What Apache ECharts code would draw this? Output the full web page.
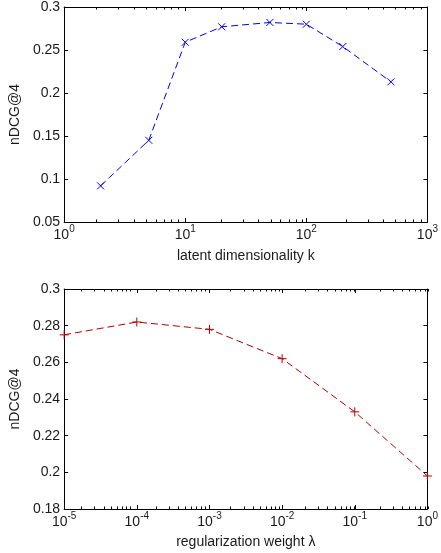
<!DOCTYPE html>
<html>
<head>
<meta charset="utf-8">
<script src="https://cdn.jsdelivr.net/npm/echarts@6/dist/echarts.min.js"></script>
<style>
html,body{margin:0;padding:0;background:#fff;}
#chart{width:441px;height:553px;}
</style>
</head>
<body>
<div id="chart"></div>
<script>
// ---- data ----
var kValues = [2, 5, 10, 20, 50, 100, 200, 500];
var ndcgByK = [0.092, 0.145, 0.259, 0.277, 0.282, 0.280, 0.254, 0.213];
var lambdaValues = [1e-5, 1e-4, 1e-3, 1e-2, 1e-1, 1];
var ndcgByLambda = [0.275, 0.282, 0.278, 0.262, 0.233, 0.198];
var yTitle = 'nDCG@4';
var xTitleTop = 'latent dimensionality k';
var xTitleBottom = 'regularization weight \u03bb';

function minorTicks(fromExp, toExp) {
  var out = [];
  for (var e = fromExp; e < toExp; e++) {
    for (var m = 2; m <= 9; m++) out.push(m * Math.pow(10, e));
  }
  return out;
}
var kMinor = minorTicks(0, 3);
var lambdaMinor = minorTicks(-5, 0);

var FONT = '"Liberation Sans", Arial, Helvetica, sans-serif';
var TXT = '#1a1a1a';
var LINE = '#000';

function logLabel(v) {
  var e = Math.round(Math.log10(v));
  return '{b|10}{s|' + (e < 0 ? '-' : '') + Math.abs(e) + '}';
}

var grids = [
  {left: 59, right: 8, top: 7, height: 215},
  {left: 59, right: 8, top: 7, height: 215},
  {left: 59, right: 9, top: 289, height: 220},
  {left: 59, right: 9, top: 289, height: 220}
];

function mainX(grid, min, max, name, nameGap) {
  return {
    type: 'log', logBase: 10, gridIndex: grid, min: min, max: max, position: 'bottom',
    name: name, nameLocation: 'middle', nameGap: nameGap,
    nameTextStyle: {fontFamily: FONT, fontSize: 14, color: TXT},
    axisLine: {show: true, lineStyle: {color: LINE, width: 1}},
    axisTick: {show: true, inside: true, length: 4, lineStyle: {color: LINE}},
    minorTick: {show: false},
    splitLine: {show: false},
    axisLabel: {
      show: true, margin: 6, formatter: logLabel, showMinLabel: true, showMaxLabel: true,
      rich: {
        b: {fontFamily: FONT, fontSize: 14, color: TXT, lineHeight: 14, verticalAlign: 'bottom'},
        s: {fontFamily: FONT, fontSize: 10, color: TXT, lineHeight: 10, padding: [0, 0, 8, 0], verticalAlign: 'bottom'}
      }
    }
  };
}
function mirrorX(grid, min, max, pos) {
  return {
    type: 'log', logBase: 10, gridIndex: grid, min: min, max: max, position: pos,
    axisLine: {show: true, lineStyle: {color: LINE, width: 1}},
    axisTick: {show: true, inside: true, length: 4, lineStyle: {color: LINE}},
    axisLabel: {show: false}, splitLine: {show: false}
  };
}
function minorX(grid, min, max, pos, values) {
  return {
    type: 'log', logBase: 10, gridIndex: grid, min: min, max: max, position: pos,
    axisLine: {show: false},
    axisTick: {show: true, inside: true, length: 2.5, customValues: values, lineStyle: {color: LINE}},
    axisLabel: {show: false}, splitLine: {show: false}
  };
}
function mainY(grid, min, max, interval) {
  return {
    type: 'value', gridIndex: grid, min: min, max: max, interval: interval, position: 'left',
    name: yTitle, nameLocation: 'middle', nameGap: 39,
    nameTextStyle: {fontFamily: FONT, fontSize: 14, color: TXT},
    axisLine: {show: true, lineStyle: {color: LINE, width: 1}},
    axisTick: {show: true, inside: true, length: 4, lineStyle: {color: LINE}},
    splitLine: {show: false},
    axisLabel: {show: true, margin: 4, fontFamily: FONT, fontSize: 14, color: TXT, showMinLabel: true, showMaxLabel: true}
  };
}
function mirrorY(grid, min, max, interval) {
  return {
    type: 'value', gridIndex: grid, min: min, max: max, interval: interval, position: 'right',
    axisLine: {show: true, lineStyle: {color: LINE, width: 1}},
    axisTick: {show: true, inside: true, length: 4, lineStyle: {color: LINE}},
    splitLine: {show: false}, axisLabel: {show: false}
  };
}
function hiddenY(grid, min, max, pos) {
  return {type: 'value', gridIndex: grid, min: min, max: max, position: pos, show: false};
}

var xAxes = [
  mainX(0, 1, 1000, xTitleTop, 27),        // 0
  mirrorX(0, 1, 1000, 'top'),              // 1
  minorX(1, 1, 1000, 'bottom', kMinor),    // 2
  minorX(1, 1, 1000, 'top', kMinor),       // 3
  mainX(2, 1e-5, 1, xTitleBottom, 26),     // 4
  mirrorX(2, 1e-5, 1, 'top'),              // 5
  minorX(3, 1e-5, 1, 'bottom', lambdaMinor), // 6
  minorX(3, 1e-5, 1, 'top', lambdaMinor)   // 7
];
var yAxes = [
  mainY(0, 0.05, 0.3, 0.05),   // 0
  mirrorY(0, 0.05, 0.3, 0.05), // 1
  hiddenY(1, 0.05, 0.3, 'left'), // 2
  mainY(2, 0.18, 0.3, 0.02),   // 3
  mirrorY(2, 0.18, 0.3, 0.02), // 4
  hiddenY(3, 0.18, 0.3, 'left')  // 5
];

function pairs(xs, ys) {
  return xs.map(function (x, i) { return [x, ys[i]]; });
}

var option = {
  animation: false,
  backgroundColor: '#fff',
  grid: grids,
  xAxis: xAxes,
  yAxis: yAxes,
  series: [
    {
      type: 'line', xAxisIndex: 0, yAxisIndex: 0,
      data: pairs(kValues, ndcgByK),
      symbol: 'path://M0,0L10,10M10,0L0,10', symbolSize: 7,
      itemStyle: {color: 'rgba(0,0,0,0)', borderColor: '#0000ff', borderWidth: 1},
      lineStyle: {color: '#0000ff', width: 1, type: [7, 4]},
      emphasis: {disabled: true}, silent: true
    },
    {
      type: 'line', xAxisIndex: 4, yAxisIndex: 3,
      data: pairs(lambdaValues, ndcgByLambda),
      symbol: 'path://M5,0L5,10M0,5L10,5', symbolSize: 9,
      itemStyle: {color: 'rgba(0,0,0,0)', borderColor: '#b00000', borderWidth: 1},
      lineStyle: {color: '#b00000', width: 1, type: [7, 4]},
      emphasis: {disabled: true}, silent: true, clip: false
    }
  ]
};

var chart = echarts.init(document.getElementById('chart'), null, {renderer: 'canvas'});
chart.setOption(option);
</script>
</body>
</html>
